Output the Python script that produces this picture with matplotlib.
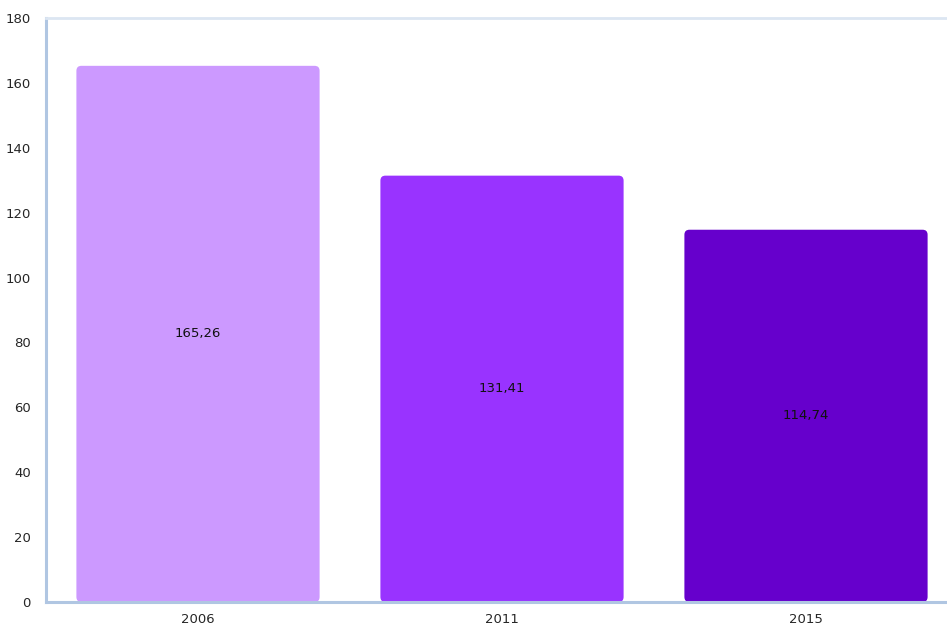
import matplotlib.pyplot as plt
from matplotlib.patches import FancyBboxPatch

# values per year
years = ['2006', '2011', '2015']
values = [165.26, 131.41, 114.74]
labels = ['165,26', '131,41', '114,74']
colors = ['#CC99FF', '#9933FF', '#6600CC']

fig = plt.figure(figsize=(9.47, 6.27), dpi=100)
ax = fig.add_axes([46 / 947, 25 / 627, 912 / 947, 584 / 627])

ax.set_xlim(-0.5, 2.5)
ax.set_ylim(0, 180)
ax.set_yticks(range(0, 181, 20))
ax.set_xticks(range(len(years)))
ax.set_xticklabels(years)

# rounded bars: work out the corner size so it looks round in pixels
bar_w = 0.8
ax_w_px = 912
ax_h_px = 584
x_per_px = 3.0 / ax_w_px
y_per_px = 180.0 / ax_h_px
r = 5 * x_per_px
aspect = y_per_px / x_per_px

for i, v in enumerate(values):
    box = FancyBboxPatch((i - bar_w / 2 + r, r * aspect), bar_w - 2 * r, v - 2 * r * aspect,
                         boxstyle='round,pad=%f' % r, mutation_aspect=aspect,
                         facecolor=colors[i], edgecolor='none', zorder=2)
    ax.add_patch(box)
    ax.text(i, v / 2, labels[i], ha='center', va='center', fontsize=9.5, color='#111111', zorder=3)

ax.tick_params(axis='both', length=0, labelsize=9.5, labelcolor='#262626')
ax.tick_params(axis='y', pad=11)
ax.tick_params(axis='x', pad=8)

ax.spines['left'].set_color('#B0C6E2')
ax.spines['left'].set_linewidth(2.2)
ax.spines['bottom'].set_color('#B0C6E2')
ax.spines['bottom'].set_linewidth(2.2)
ax.spines['top'].set_color('#DCE6F2')
ax.spines['top'].set_linewidth(2)
ax.spines['right'].set_visible(False)

fig.savefig('out.png', dpi=100)
